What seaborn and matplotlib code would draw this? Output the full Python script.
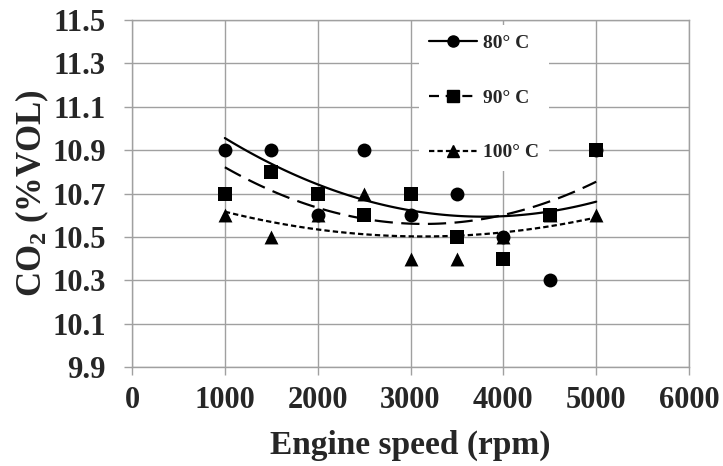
import matplotlib
matplotlib.use("Agg")
import matplotlib.pyplot as plt
import seaborn as sns
import pandas as pd
from matplotlib.lines import Line2D

# ---- data ----
speed_rpm = [1000, 1500, 2000, 2500, 3000, 3500, 4000, 4500, 5000]
co2_80 = [10.9, 10.9, 10.6, 10.9, 10.6, 10.7, 10.5, 10.3, 10.9]
co2_90 = [10.7, 10.8, 10.7, 10.6, 10.7, 10.5, 10.4, 10.6, 10.9]
co2_100 = [10.6, 10.5, 10.6, 10.7, 10.4, 10.4, 10.5, 10.6, 10.6]
series_labels = ["80° C", "90° C", "100° C"]
x_ticks = [0, 1000, 2000, 3000, 4000, 5000, 6000]
y_ticks = [9.9, 10.1, 10.3, 10.5, 10.7, 10.9, 11.1, 11.3, 11.5]

sns.set_style("white")
plt.rcParams.update({
    "font.family": ["Liberation Serif", "DejaVu Serif"],
    "font.weight": "bold",
    "mathtext.default": "regular",
})

fig = plt.figure(figsize=(7.23, 4.66), dpi=100)
ax = fig.add_axes([0.1826, 0.2124, 0.7704, 0.7446])

grid_c = "#a0a0a0"
series = [
    (co2_100, "^", (0, (2.4, 1.4)), 2),
    (co2_80, "o", "-", 3),
    (co2_90, "s", (0, (8.2, 3.8)), 4),
]
for vals, mk, ls, z in series:
    df = pd.DataFrame({"speed": speed_rpm, "co2": vals})
    sns.regplot(data=df, x="speed", y="co2", order=2, ci=None, ax=ax,
                marker=mk, color="black", truncate=True,
                scatter_kws={"s": 100, "zorder": z, "linewidths": 0, "alpha": 1},
                line_kws={"linestyle": ls, "linewidth": 1.6, "zorder": 5})

ax.set_xlim(0, 6000)
ax.set_ylim(9.9, 11.5)
ax.set_xticks(x_ticks)
ax.set_yticks(y_ticks)
ax.set_yticklabels([f"{v:.1f}" for v in y_ticks])
ax.set_xticklabels([str(v) for v in x_ticks])
ax.grid(True, color=grid_c, linewidth=1)
ax.set_axisbelow(True)
for sp in ax.spines.values():
    sp.set_color(grid_c)
    sp.set_linewidth(1)
ax.tick_params(axis="both", which="both", bottom=True, left=True,
               direction="out", length=6, color=grid_c, width=1,
               labelsize=22)
ax.tick_params(axis="y", pad=13)
ax.tick_params(axis="x", pad=8)

ax.set_xlabel("Engine speed (rpm)", fontsize=24, fontweight="bold", labelpad=10)
ax.set_ylabel("CO$_2$ (%VOL)", fontsize=25, fontweight="bold")
ax.yaxis.set_label_coords(-0.145, 0.5)

handles = [
    Line2D([], [], color="black", marker="o", linestyle="-", linewidth=1.6, markersize=8),
    Line2D([], [], color="black", marker="s", linestyle=(0, (4.5, 3.0)), linewidth=1.6, markersize=8),
    Line2D([], [], color="black", marker="^", linestyle=(0, (2.4, 1.4)), linewidth=1.6, markersize=8),
]
leg = ax.legend(handles, series_labels, loc="upper left",
                bbox_to_anchor=(0.515, 0.986), frameon=True,
                facecolor="white", edgecolor="none", framealpha=1,
                prop={"weight": "bold", "size": 14},
                labelspacing=1.9, handlelength=2.5, handletextpad=0.3,
                borderaxespad=0, borderpad=0.5)
leg.set_zorder(6)

fig.savefig("out.png", dpi=100)
